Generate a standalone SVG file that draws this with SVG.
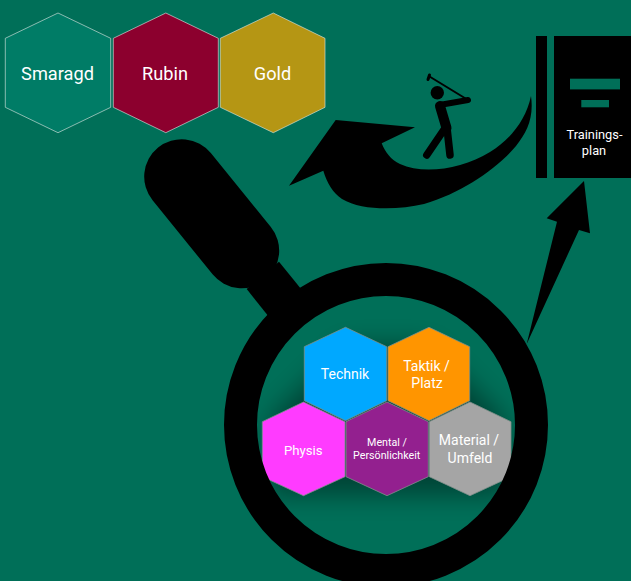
<svg xmlns="http://www.w3.org/2000/svg" width="631" height="581" viewBox="0 0 631 581">
<style>
.hex{stroke:#d8e4e0;stroke-width:.8;stroke-opacity:.8}
.sm{stroke:#7f8f8a;stroke-width:.8}
text{font-family:Roboto,"Liberation Sans",sans-serif;fill:#fff;text-anchor:middle}
.lg{font-size:18.200px}
.md{font-size:14px}
.s{font-size:10.700px}
.t{font-size:12.800px}
.g{stroke:#000;fill:none;stroke-linecap:round;stroke-linejoin:round}
</style>
<defs>
<filter id="shadow" x="-30%" y="-30%" width="160%" height="160%"><feGaussianBlur stdDeviation="13"/></filter>
<clipPath id="lens"><circle cx="386" cy="425" r="130"/></clipPath>
</defs>
<rect width="631" height="581" fill="#006f58"/>
<g id="connectors">
<path d="M531 96C534 118 527 132 516 146C498 168 462 193 424 204C398 210 362 211 342 199C333 193 327 183 323.3 170.7L289 185.7L335.7 120L415 127.3L381.7 143.3C385 152 391 160 400 164C424 175 462 169 490 152C510 140 526 120 531 96Z" fill="#000"/>
<path d="M526.7 344L557 221.7L546.7 218.3L584 181L590 233.3L579 230Z" fill="#000"/>
</g>
<g id="smaragd"><polygon class="hex" points="58,13 110.7,38.3 110.7,107.3 58,132.7 5.3,107.3 5.3,38.3" fill="#007c66"/><text class="lg" x="57.500" y="80">Smaragd</text></g>
<g id="rubin"><polygon class="hex" points="165.8,13 218.3,38.3 218.3,107.3 165.8,132.7 113.3,107.3 113.3,38.3" fill="#8c002e"/><text class="lg" x="165" y="80">Rubin</text></g>
<g id="gold"><polygon class="hex" points="273.3,13 325,38.3 325,107.3 273.3,132.7 220.3,107.3 220.3,38.3" fill="#b59614"/><text class="lg" x="272.500" y="80">Gold</text></g>
<g id="lupe-griff">
<line x1="181.7" y1="176.7" x2="241.7" y2="250.7" stroke="#000" stroke-width="75" stroke-linecap="round"/>
<polygon points="279,261.7 310,300 277,327 246.7,289" fill="#000"/>
</g>
<g clip-path="url(#lens)" id="schatten">
<polygon points="345,345 430,345 505,420 505,495 270,495 270,420" fill="#000" fill-opacity=".4" filter="url(#shadow)"/>
</g>
<g id="technik"><polygon class="sm" points="345.5,327.3 386.7,346.7 386.7,400.7 345.5,420.7 304.3,400.7 304.3,346.7" fill="#00a8ff"/><text class="md" x="345" y="378.500">Technik</text></g>
<g id="taktik"><polygon class="sm" points="429,327.3 469.7,346.7 469.7,400.7 429,420.7 388,400.7 388,346.7" fill="#ff9500"/><text class="md" x="426.500" y="370.500">Taktik /</text><text class="md" x="427" y="388">Platz</text></g>
<g id="physis"><polygon class="sm" points="303.500,402 345,421.700 345,476.700 303.500,495.700 262.300,476.700 262.300,421.700" fill="#ff3bff"/><text class="md" x="303.300" y="454.500" style="font-size:13.200px">Physis</text></g>
<g id="mental"><polygon class="sm" points="387,402 428.300,421.700 428.300,476.700 387,495.700 346,476.700 346,421.700" fill="#93208f"/><text class="s" x="387" y="446">Mental /</text><text class="s" x="386.700" y="459.300">Persönlichkeit</text></g>
<g id="material"><polygon class="sm" points="470,402 511,421.700 511,476.700 470,495.700 429.300,476.700 429.300,421.700" fill="#a5a5a5"/><text class="md" x="469" y="445">Material /</text><text class="md" x="470" y="463">Umfeld</text></g>
<g id="lupe-ring"><circle cx="386" cy="425" r="145.500" fill="none" stroke="#000" stroke-width="33"/></g>
<g id="golfer">
<circle cx="437.300" cy="92.700" r="6.700" fill="#000"/>
<path class="g" d="M429.500 76.500L468 100" stroke-width="2"/>
<path class="g" d="M428 79.500L429.500 75" stroke-width="3"/>
<path class="g" d="M439.500 105L468 100" stroke-width="6"/>
<path class="g" d="M440 106L446.500 128" stroke-width="10"/>
<path class="g" d="M446.500 126L426.800 155" stroke-width="7.500"/>
<path class="g" d="M447 128L450 155" stroke-width="7.500"/>
</g>
<g id="trainingsplan">
<rect x="536" y="36" width="11" height="142" fill="#000"/>
<rect x="554" y="36" width="77" height="142" fill="#000"/>
<rect x="570" y="78.700" width="50" height="10.700" fill="#006f58"/>
<rect x="581.300" y="100" width="27.700" height="7.300" fill="#006f58"/>
<text class="t" x="594.500" y="139">Trainings-</text>
<text class="t" x="594" y="155">plan</text>
</g>
</svg>
